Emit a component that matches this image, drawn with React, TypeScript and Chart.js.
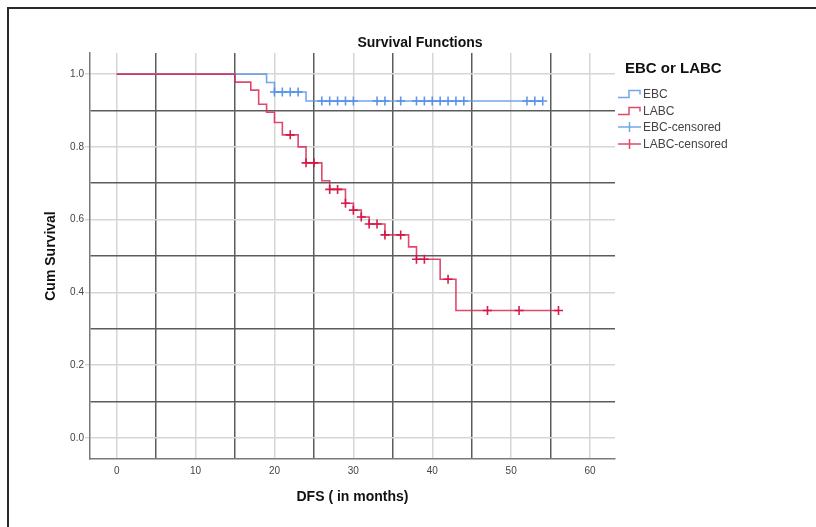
import React, { useEffect, useRef } from "react";
import { Chart, registerables } from "chart.js";

Chart.register(...registerables);

// ---- Data ----
const ebcEventTimes = [0, 19, 20, 24];
const ebcSurvival = [1.0, 0.977, 0.951, 0.926];
const ebcEndTime = 54;
const ebcCensorTimes = [20, 21, 22, 23, 26, 27, 28, 29, 30, 33, 34, 36, 38, 39, 40, 41, 42, 43, 44, 52, 53, 54];

const labcEventTimes = [0, 15, 17, 18, 19, 20, 21, 23, 24, 26, 27, 29, 30, 31, 32, 34, 37, 38, 41, 43];
const labcSurvival = [1.0, 0.978, 0.956, 0.917, 0.895, 0.867, 0.833, 0.8, 0.756, 0.707, 0.683, 0.645, 0.626, 0.607, 0.588, 0.558, 0.525, 0.491, 0.436, 0.35];
const labcEndTime = 56;
const labcCensorTimes = [22, 24, 25, 27, 28, 29, 30, 31, 32, 33, 34, 36, 38, 39, 42, 47, 51, 56];

const xGridValues = [0, 5, 10, 15, 20, 25, 30, 35, 40, 45, 50, 55, 60];
const xTickLabels = [0, 10, 20, 30, 40, 50, 60];
const yGridValues = [0, 0.1, 0.2, 0.3, 0.4, 0.5, 0.6, 0.7, 0.8, 0.9, 1.0];
const yTickLabels = ["0.0", "0.2", "0.4", "0.6", "0.8", "1.0"];

const seriesNames = ["EBC", "LABC", "EBC-censored", "LABC-censored"];

const BLUE = "rgba(90,150,232,0.85)";
const BLUE_MARK = "rgba(80,140,230,0.9)";
const RED = "rgba(220,40,85,0.85)";
const RED_MARK = "rgba(212,18,66,0.95)";
const FONT = "'Liberation Sans', Arial, sans-serif";

function stepData(times: number[], surv: number[], end: number) {
  const pts = times.map((t, i) => ({ x: t, y: surv[i] }));
  pts.push({ x: end, y: surv[surv.length - 1] });
  return pts;
}

function survAt(times: number[], surv: number[], t: number) {
  let v = surv[0];
  for (let i = 0; i < times.length; i++) if (times[i] <= t) v = surv[i];
  return v;
}

function censorData(times: number[], surv: number[], cens: number[]) {
  return cens.map((t) => ({ x: t, y: survAt(times, surv, t) }));
}

const LIGHT = "#d6d6d6";
const DARK = "#5c5c5c";

function StepIcon({ color }: { color: string }) {
  return (
    <svg width={24} height={12} style={{ display: "block" }}>
      <path d="M0 9.5 H11 V2.5 H22 V6.5" fill="none" stroke={color} strokeWidth={1.5} />
    </svg>
  );
}

function CrossIcon({ color }: { color: string }) {
  return (
    <svg width={24} height={12} style={{ display: "block" }}>
      <path d="M0 6 H23 M11.5 1 V11" fill="none" stroke={color} strokeWidth={1.5} />
    </svg>
  );
}

export default function App() {
  const canvasRef = useRef<HTMLCanvasElement | null>(null);

  useEffect(() => {
    if (!canvasRef.current) return;
    const chart = new Chart(canvasRef.current, {
      type: "line",
      data: {
        datasets: [
          {
            label: seriesNames[3],
            data: censorData(labcEventTimes, labcSurvival, labcCensorTimes),
            showLine: false,
            pointStyle: "cross",
            pointRadius: 4.5,
            pointBorderWidth: 1.6,
            borderColor: RED_MARK,
            backgroundColor: RED_MARK,
          },
          {
            label: seriesNames[1],
            data: stepData(labcEventTimes, labcSurvival, labcEndTime),
            stepped: "before",
            borderColor: RED,
            borderWidth: 1.6,
            pointRadius: 0,
            fill: false,
          },
          {
            label: seriesNames[2],
            data: censorData(ebcEventTimes, ebcSurvival, ebcCensorTimes),
            showLine: false,
            pointStyle: "cross",
            pointRadius: 4.5,
            pointBorderWidth: 1.6,
            borderColor: BLUE_MARK,
            backgroundColor: BLUE_MARK,
          },
          {
            label: seriesNames[0],
            data: stepData(ebcEventTimes, ebcSurvival, ebcEndTime),
            stepped: "before",
            borderColor: BLUE,
            borderWidth: 1.6,
            pointRadius: 0,
            fill: false,
          },
        ],
      },
      options: {
        animation: false,
        responsive: false,
        maintainAspectRatio: false,
        layout: { padding: { top: 53, right: 201, left: 0, bottom: 0 } },
        plugins: {
          legend: { display: false },
          title: { display: false },
          tooltip: { enabled: false },
        },
        scales: {
          x: {
            type: "linear",
            min: -3.38,
            max: 63.16,
            afterBuildTicks: (s: any) => {
              s.ticks = xGridValues.map((v) => ({ value: v }));
            },
            afterFit: (s: any) => {
              s.height = 68;
            },
            ticks: {
              autoSkip: false,
              maxRotation: 0,
              padding: 6,
              color: "#444",
              font: { family: FONT, size: 10 },
              callback: (v: any) => (xTickLabels.includes(Number(v)) ? String(v) : ""),
            },
            grid: {
              drawTicks: false,
              lineWidth: 1.5,
              color: (ctx: any) => (ctx.tick && ctx.tick.value % 10 === 0 ? LIGHT : DARK),
            },
            border: { display: true, color: "#7a7a7a", width: 1.5 },
            title: {
              display: true,
              text: "DFS ( in months)",
              color: "#111",
              font: { family: FONT, size: 14, weight: "bold" },
              padding: { top: 0, bottom: 21 },
            },
          },
          y: {
            type: "linear",
            min: -0.058,
            max: 1.058,
            afterBuildTicks: (s: any) => {
              s.ticks = yGridValues.map((v) => ({ value: v }));
            },
            afterFit: (s: any) => {
              s.width = 90;
            },
            ticks: {
              autoSkip: false,
              padding: 1,
              color: "#444",
              font: { family: FONT, size: 10 },
              callback: (v: any) => {
                const lbl = Number(v).toFixed(1);
                return yTickLabels.includes(lbl) ? lbl : "";
              },
            },
            grid: {
              drawTicks: true,
              tickLength: 5,
              lineWidth: 1.5,
              color: (ctx: any) =>
                ctx.tick && Math.round(ctx.tick.value * 10) % 2 === 0 ? LIGHT : DARK,
              tickColor: (ctx: any) =>
                ctx.tick && Math.round(ctx.tick.value * 10) % 2 === 0 ? LIGHT : "rgba(0,0,0,0)",
            },
            border: { display: true, color: "#7a7a7a", width: 1.5 },
            title: {
              display: true,
              text: "Cum Survival",
              color: "#111",
              font: { family: FONT, size: 14, weight: "bold" },
              padding: { top: 43, bottom: 0 },
            },
          },
        },
      },
    } as any);
    return () => chart.destroy();
  }, []);

  const legendItems = [
    { name: seriesNames[0], icon: <StepIcon color={BLUE} />, y: 94 },
    { name: seriesNames[1], icon: <StepIcon color={RED} />, y: 110.5 },
    { name: seriesNames[2], icon: <CrossIcon color={BLUE} />, y: 127 },
    { name: seriesNames[3], icon: <CrossIcon color={RED} />, y: 143.5 },
  ];

  return (
    <div style={{ position: "absolute", left: 0, top: 0, width: 816, height: 527, overflow: "hidden", background: "#fff" }}>
      <canvas ref={canvasRef} width={816} height={527} style={{ position: "absolute", left: 0, top: 0, width: 816, height: 527 }} />
      <div
        style={{
          position: "absolute",
          left: 7,
          top: 7,
          width: 809,
          height: 520,
          borderTop: "2px solid #2a2a2a",
          borderLeft: "2px solid #2a2a2a",
          boxSizing: "border-box",
          pointerEvents: "none",
        }}
      />
      <div
        style={{
          position: "absolute",
          left: 0,
          width: 840,
          top: 33,
          height: 18,
          lineHeight: "18px",
          textAlign: "center",
          fontFamily: FONT,
          fontWeight: "bold",
          fontSize: 14,
          color: "#111",
        }}
      >
        Survival Functions
      </div>
      <div
        style={{
          position: "absolute",
          left: 625,
          top: 59,
          height: 18,
          lineHeight: "18px",
          fontFamily: FONT,
          fontWeight: "bold",
          fontSize: 15,
          color: "#111",
          whiteSpace: "nowrap",
        }}
      >
        EBC or LABC
      </div>
      {legendItems.map((it) => (
        <div
          key={it.name}
          style={{
            position: "absolute",
            left: 618,
            top: it.y - 7,
            height: 14,
            display: "flex",
            alignItems: "center",
            fontFamily: FONT,
            fontSize: 12,
            color: "#444",
            whiteSpace: "nowrap",
          }}
        >
          {it.icon}
          <span style={{ marginLeft: 1 }}>{it.name}</span>
        </div>
      ))}
    </div>
  );
}
